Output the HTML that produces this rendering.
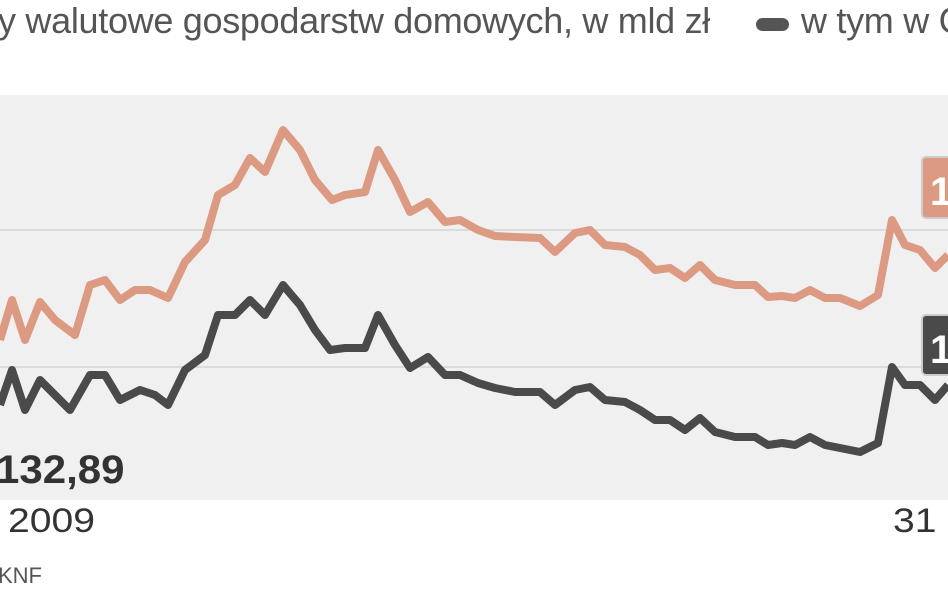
<!DOCTYPE html><html><head><style>
body{margin:0;width:948px;height:593px;overflow:hidden;background:#fff;font-family:"Liberation Sans",sans-serif;position:relative}
.t{position:absolute;white-space:nowrap}
</style></head><body>
<div class="t" style="left:-2px;top:0px;font-size:36px;color:#555;letter-spacing:-0.3px;">y walutowe gospodarstw domowych, w mld zł</div>
<div style="position:absolute;left:756px;top:18px;width:33px;height:13px;border-radius:7px;background:#555"></div>
<div class="t" style="left:801px;top:0px;font-size:36px;color:#555;letter-spacing:-0.3px">w tym w C</div>
<svg width="948" height="593" style="position:absolute;left:0;top:0">
<rect x="0" y="95" width="948" height="405" fill="#f0f0f0"/>
<line x1="0" y1="230" x2="948" y2="230" stroke="#d4d4d4" stroke-width="1.5"/>
<line x1="0" y1="367" x2="948" y2="367" stroke="#d4d4d4" stroke-width="1.5"/>
<polyline fill="none" stroke="#dd9a82" stroke-width="8" stroke-linejoin="round" points="0,340 12,300 25,340 40,302 55,320 75,335 90,285 105,280 120,300 135,290 150,290 168,298 185,262 205,240 218,195 235,185 250,158 265,172 283,130 300,150 315,180 332,200 345,195 365,192 378,150 395,180 410,212 428,202 445,222 460,220 478,230 495,236 515,237 540,238 555,252 575,233 590,230 605,245 625,247 640,255 655,270 670,268 685,278 700,265 715,280 735,285 755,285 768,297 782,296 795,298 810,290 825,298 840,298 860,306 878,295 892,220 905,245 920,250 935,268 948,255"/>
<polyline fill="none" stroke="#4a4a4a" stroke-width="8" stroke-linejoin="round" points="0,405 12,370 25,410 40,380 55,395 70,410 90,375 105,375 120,400 140,390 155,395 168,405 185,370 205,355 218,315 235,315 250,300 265,315 283,285 300,305 315,330 330,350 345,348 365,348 378,315 395,345 410,368 428,357 445,375 460,375 478,383 495,388 515,392 540,392 555,405 575,390 590,387 605,400 625,402 640,410 655,420 670,420 685,430 700,418 715,432 735,437 755,437 768,445 782,443 795,445 810,437 825,445 840,448 860,452 878,443 892,367 905,385 920,385 935,400 948,385"/>
<rect x="922" y="157" width="40" height="61" rx="4" fill="#dd9a82" stroke="#ccc" stroke-width="2"/>
<rect x="922" y="315" width="40" height="60" rx="4" fill="#4a4a4a" stroke="#ccc" stroke-width="2"/>
<text x="930" y="205" font-size="40" font-weight="bold" fill="#fff" font-family="Liberation Sans">1</text>
<text x="930" y="363" font-size="40" font-weight="bold" fill="#fff" font-family="Liberation Sans">1</text>
</svg>
<div class="t" style="left:-4px;top:448px;font-size:40px;font-weight:bold;color:#333;transform:scaleX(1.05);transform-origin:left">132,89</div>
<div class="t" style="left:8px;top:502px;font-size:34px;color:#333;transform:scaleX(1.15);transform-origin:left">2009</div>
<div class="t" style="left:893px;top:502px;font-size:34px;color:#333;transform:scaleX(1.15);transform-origin:left">31</div>
<div class="t" style="left:-2px;top:563px;font-size:22px;color:#555">KNF</div>
</body></html>
